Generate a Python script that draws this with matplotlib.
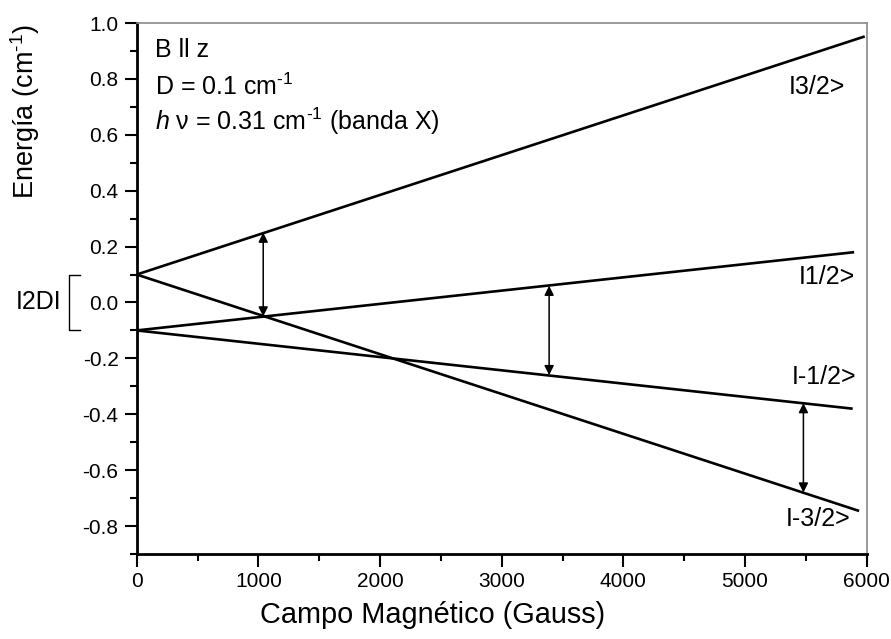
import matplotlib
matplotlib.use("Agg")
import matplotlib.pyplot as plt
import matplotlib.ticker as mticker

plt.rcParams['font.family'] = ['Liberation Sans', 'DejaVu Sans']
plt.rcParams['mathtext.fontset'] = 'custom'
plt.rcParams['mathtext.rm'] = 'Liberation Sans'
plt.rcParams['mathtext.it'] = 'Liberation Sans:italic'
plt.rcParams['mathtext.default'] = 'regular'
plt.rcParams['axes.unicode_minus'] = False

# energy levels (field in Gauss, energy in cm-1), straight lines -> end points
field_32 = [0, 5984]
energy_32 = [0.10, 0.952]
field_12 = [0, 5897]
energy_12 = [-0.10, 0.18]
field_m12 = [0, 5885]
energy_m12 = [-0.10, -0.38]
field_m32 = [0, 5938]
energy_m32 = [0.10, -0.746]

# resonant transitions (h nu = 0.31 cm-1)
arrow_field = [1040, 3390, 5480]
arrow_low = [-0.05, -0.26, -0.68]
arrow_high = [0.25, 0.06, -0.36]

state_labels = ["I3/2>", "I1/2>", "I-1/2>", "I-3/2>"]
state_label_x = [5822, 5904, 5912, 5871]
state_label_y = [0.77, 0.09, -0.265, -0.775]

fig = plt.figure(figsize=(8.91, 6.39), dpi=100)
ax = fig.add_axes([0.1534, 0.133, 0.8193, 0.831])

for f, e in [(field_32, energy_32), (field_12, energy_12),
             (field_m12, energy_m12), (field_m32, energy_m32)]:
    ax.plot(f, e, color='black', lw=1.9, solid_capstyle='butt')

for x, lo, hi in zip(arrow_field, arrow_low, arrow_high):
    ax.annotate('', xy=(x, hi), xytext=(x, lo),
                arrowprops=dict(arrowstyle='<|-|>', color='black', lw=1.1,
                                mutation_scale=14, shrinkA=0, shrinkB=0))

for lab, x, y in zip(state_labels, state_label_x, state_label_y):
    ax.text(x, y, lab, ha='right', va='center', fontsize=18)

ax.set_xlim(0, 6000)
ax.set_ylim(-0.9, 1.0)
ax.xaxis.set_major_locator(mticker.MultipleLocator(1000))
ax.xaxis.set_minor_locator(mticker.MultipleLocator(500))
ax.yaxis.set_minor_locator(mticker.MultipleLocator(0.1))
ax.yaxis.set_major_formatter(mticker.FormatStrFormatter('%.1f'))
ax.set_yticks([-0.8, -0.6, -0.4, -0.2, 0.0, 0.2, 0.4, 0.6, 0.8, 1.0])

ax.tick_params(which='major', direction='out', length=9, width=1.5,
               labelsize=15, pad=4)
ax.tick_params(which='minor', direction='out', length=5, width=1.5)

for s in ['left', 'bottom']:
    ax.spines[s].set_linewidth(2)
    ax.spines[s].set_color('black')
for s in ['top', 'right']:
    ax.spines[s].set_linewidth(1.2)
    ax.spines[s].set_color('#8a8a8a')

ax.set_xlabel('Campo Magnético (Gauss)', fontsize=20.8)
ax.xaxis.set_label_coords(0.406, -0.088)
ax.set_ylabel(r'Energía (cm$^{\text{-1}}$)', fontsize=19.5)
ax.yaxis.set_label_coords(-0.1297, 0.833)

ax.text(0.025, 0.949, 'B ll z', transform=ax.transAxes, fontsize=18, va='center')
ax.text(0.025, 0.879, r'D = 0.1 cm$^{\text{-1}}$', transform=ax.transAxes,
        fontsize=18, va='center')
ax.text(0.025, 0.815, r'$\mathit{h}$ ν = 0.31 cm$^{\text{-1}}$ (banda X)',
        transform=ax.transAxes, fontsize=18, va='center')

# |2D| bracket left of the axis
tr = matplotlib.transforms.blended_transform_factory(ax.transAxes, ax.transData)
ax.plot([-0.0777, -0.0927, -0.0927, -0.0777], [0.1, 0.1, -0.1, -0.1],
        color='black', lw=1.0, transform=tr, clip_on=False)
ax.text(-0.1025, 0.0, 'I2DI', transform=tr, ha='right', va='center', fontsize=18)

fig.savefig('out.png', dpi=100)
